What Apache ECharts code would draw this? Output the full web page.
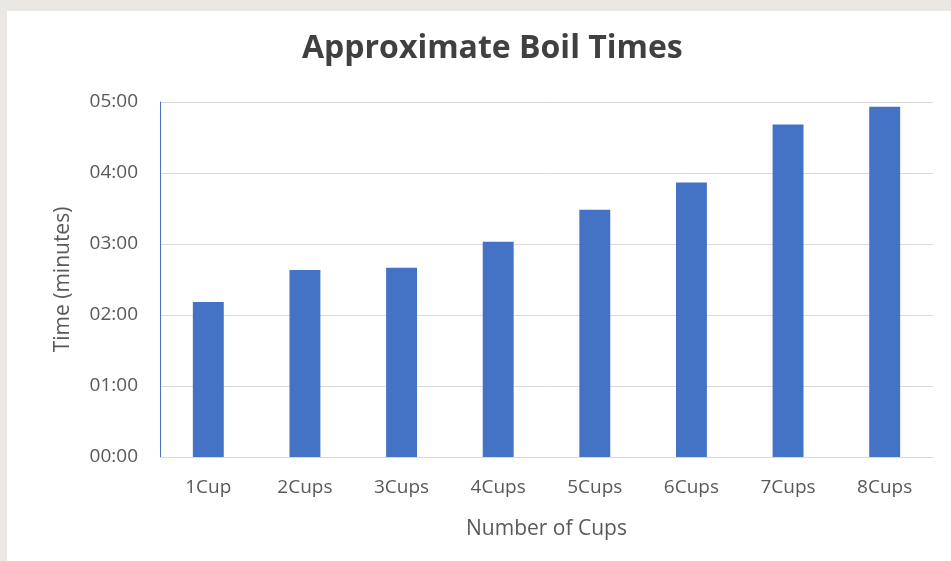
<!DOCTYPE html>
<html>
<head>
<meta charset="utf-8">
<script src="https://cdn.jsdelivr.net/npm/echarts@6/dist/echarts.min.js"></script>
<style>
    html, body { margin: 0; padding: 0; background: #ebe8e3; }
    #main { position: absolute; left: 7px; top: 11px; width: 944px; height: 550px; background: #ffffff; }
</style>
</head>
<body>
<div id="main"></div>
<script>
    // boil time in seconds per number of cups
    const categories = ['1Cup', '2Cups', '3Cups', '4Cups', '5Cups', '6Cups', '7Cups', '8Cups'];
    const boilSeconds = [131, 158, 160, 182, 209, 232, 281, 296];
    const yMax = 300;
    const yStep = 60;

    function mmss(v) {
        const m = Math.floor(v / 60), s = Math.round(v % 60);
        return String(m).padStart(2, '0') + ':' + String(s).padStart(2, '0');
    }

    const myChart = echarts.init(document.getElementById('main'));
    const option = {
        animation: false,
        title: {
            text: 'Approximate Boil Times',
            left: 290,
            top: 17,
            textStyle: {fontFamily: 'Open Sans', fontWeight: 'bold', fontSize: 32, color: '#404040'}
        },
        grid: {left: 153, top: 91, right: 18, bottom: 104},
        xAxis: {
            type: 'category',
            data: categories,
            name: 'Number of Cups',
            nameLocation: 'middle',
            nameGap: 62,
            nameTextStyle: {fontFamily: 'Open Sans', fontSize: 21, color: '#595959'},
            axisTick: {show: false},
            axisLine: {lineStyle: {color: '#d9d9d9', width: 1}},
            axisLabel: {fontFamily: 'Open Sans', fontSize: 19, color: '#595959', margin: 21}
        },
        yAxis: {
            type: 'value',
            min: 0,
            max: yMax,
            interval: yStep,
            name: 'Time (minutes)',
            nameLocation: 'middle',
            nameRotate: 90,
            nameGap: 86,
            nameTextStyle: {fontFamily: 'Open Sans', fontSize: 21, color: '#595959'},
            axisLine: {show: true, lineStyle: {color: '#4472c4', width: 1}},
            axisTick: {show: false},
            splitLine: {lineStyle: {color: '#d9d9d9', width: 1}},
            axisLabel: {fontFamily: 'Open Sans', fontSize: 19, color: '#595959', margin: 22, formatter: mmss}
        },
        series: [{
            type: 'bar',
            data: boilSeconds,
            barWidth: '32%',
            itemStyle: {color: '#4472c4'}
        }]
    };
    myChart.setOption(option);
</script>
</body>
</html>
